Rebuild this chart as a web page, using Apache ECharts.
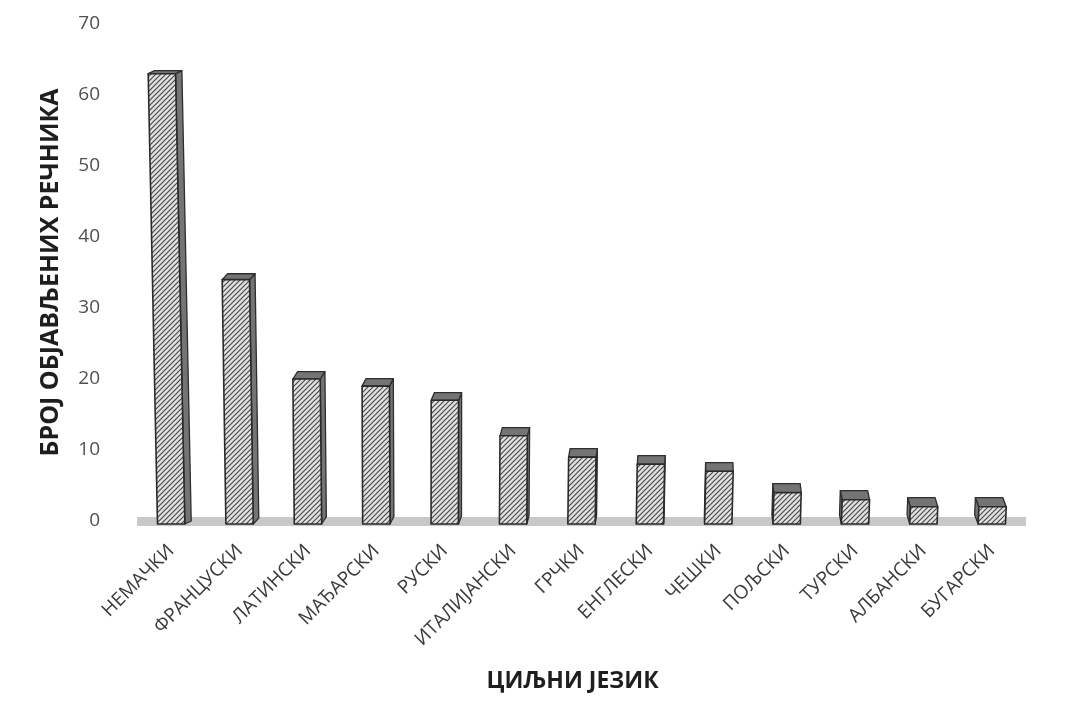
<!DOCTYPE html>
<html>
<head>
<meta charset="utf-8">
<script src="https://cdn.jsdelivr.net/npm/echarts@6/dist/echarts.min.js"></script>
<style>
html,body{margin:0;padding:0;background:#fff;}
#chart{width:1068px;height:702px;}
</style>
</head>
<body>
<div id="chart"></div>
<script>
const categories = ['НЕМАЧКИ','ФРАНЦУСКИ','ЛАТИНСКИ','МАЂАРСКИ','РУСКИ','ИТАЛИЈАНСКИ','ГРЧКИ','ЕНГЛЕСКИ','ЧЕШКИ','ПОЉСКИ','ТУРСКИ','АЛБАНСКИ','БУГАРСКИ'];
const counts = [63, 34, 20, 19, 17, 12, 9, 8, 7, 4, 3, 2, 2];
const yAxisTitle = 'БРОЈ ОБЈАВЉЕНИХ РЕЧНИКА';
const xAxisTitle = 'ЦИЉНИ ЈЕЗИК';

// hatch pattern
function makeHatch(){
  const s = 5;
  const c = document.createElement('canvas');
  c.width = s; c.height = s;
  const g = c.getContext('2d');
  g.fillStyle = '#e0e0e0';
  g.fillRect(0,0,s,s);
  g.strokeStyle = '#4a4a4a';
  g.lineWidth = 1.2;
  g.beginPath();
  g.moveTo(-1, s+1); g.lineTo(s+1, -1);
  g.moveTo(-1, 1); g.lineTo(1, -1);
  g.moveTo(s-1, s+1); g.lineTo(s+1, s-1);
  g.stroke();
  return c;
}
const hatch = makeHatch();

const chart = echarts.init(document.getElementById('chart'), null, {renderer:'canvas'});

function renderBar(params, api){
  const i = api.value(0), v = api.value(1);
  const b = api.coord([i, 0]);
  const t = api.coord([i, v]);
  const w = api.size([1, 0])[0] * 0.4;
  const cx = b[0];
  const yb = b[1] + 3;
  const yt = t[1];
  const h = yb - yt;
  const lean = (cx - 430) * 0.00008 * h;
  const dx = (700 - cx) * 0.012;
  const dy = Math.max(3, 9.5 - h * 0.015);
  const L = cx - w/2, R = cx + w/2;
  const front = [[L,yb],[R,yb],[R+lean,yt],[L+lean,yt]];
  const top = [[L+lean,yt],[R+lean,yt],[R+lean+dx,yt-dy],[L+lean+dx,yt-dy]];
  let side;
  if (dx >= 0) side = [[R,yb],[R+dx,yb-dy],[R+lean+dx,yt-dy],[R+lean,yt]];
  else side = [[L,yb],[L+dx,yb-dy],[L+lean+dx,yt-dy],[L+lean,yt]];
  const dark = {fill:'#747474', stroke:'#2e2e2e', lineWidth:1.3, lineJoin:'round'};
  return {
    type:'group',
    children:[
      {type:'polygon', shape:{points:side}, style:dark},
      {type:'polygon', shape:{points:top}, style:dark},
      {type:'polygon', shape:{points:front}, style:{fill:{image:hatch, repeat:'repeat'}, stroke:'#2a2a2a', lineWidth:1.6, lineJoin:'round'}}
    ]
  };
}

const option = {
  backgroundColor:'#ffffff',
  animation:false,
  grid:{left:137, right:42, top:24, bottom:181, containLabel:false},
  xAxis:{
    type:'category',
    data:categories,
    axisTick:{show:false},
    axisLine:{show:true, lineStyle:{color:'#c8c8c8', width:9, cap:'butt'}},
    axisLabel:{rotate:45, margin:27, color:'#3a3a3a', fontFamily:'Open Sans', fontSize:19, interval:0},
    name:xAxisTitle,
    nameLocation:'middle',
    nameGap:149,
    nameTextStyle:{fontFamily:'Open Sans', fontWeight:'bold', fontSize:23, color:'#1e1e1e', padding:[0,18,0,0]}
  },
  yAxis:{
    type:'value',
    min:0, max:70, interval:10,
    axisLine:{show:false},
    axisTick:{show:false},
    splitLine:{show:false},
    axisLabel:{margin:37, color:'#505050', fontFamily:'Open Sans', fontSize:19},
    name:yAxisTitle,
    nameLocation:'middle',
    nameGap:74,
    nameRotate:90,
    nameTextStyle:{fontFamily:'Open Sans', fontWeight:'bold', fontSize:25, color:'#1e1e1e'}
  },
  series:[{
    type:'custom',
    renderItem:renderBar,
    encode:{x:0, y:1},
    data:counts.map((v,i)=>[i,v]),
    z:3
  }]
};
chart.setOption(option);
</script>
</body>
</html>
